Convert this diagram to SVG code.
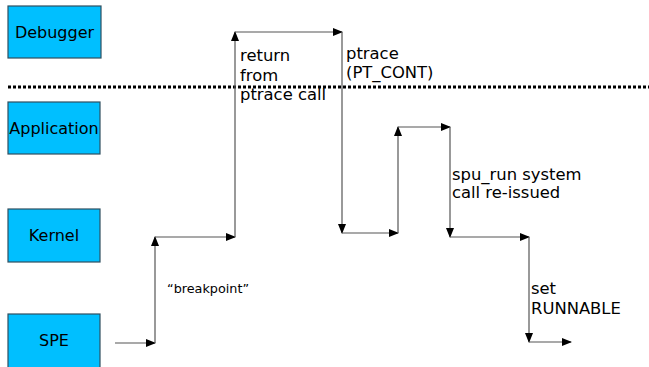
<svg xmlns="http://www.w3.org/2000/svg" width="649" height="367" viewBox="0 0 649 367">
<style>
.box{fill:#00bfff;stroke:#2f4f5f;stroke-width:1.2}
.lbl{font-family:"DejaVu Sans",sans-serif;font-size:16px;fill:#000}
.ann{font-size:16.4px}
.ctr{text-anchor:middle}
.c{fill:none;stroke:#555;stroke-width:1.2}
</style>
<defs>
<marker id="ah" markerWidth="10" markerHeight="8" refX="9" refY="4" orient="auto" markerUnits="userSpaceOnUse">
<path d="M0,0 L10,4 L0,8 Z" fill="#000"/>
</marker>
</defs>
<rect width="649" height="367" fill="#fff"/>
<g id="debugger"><rect class="box" x="8" y="6" width="93" height="52"/><text class="lbl ctr" x="54.5" y="38">Debugger</text></g>
<g id="application"><rect class="box" x="8" y="102" width="92" height="52"/><text class="lbl ctr" x="54" y="134">Application</text></g>
<g id="kernel"><rect class="box" x="8" y="209" width="92" height="53"/><text class="lbl ctr" x="54" y="241">Kernel</text></g>
<g id="spe"><rect class="box" x="8" y="314" width="92" height="56"/><text class="lbl ctr" x="54" y="346">SPE</text></g>
<line x1="8" y1="87" x2="649" y2="87" stroke="#000" stroke-width="3" stroke-dasharray="3,2"/>
<g id="connectors">
<line class="c" x1="115" y1="343" x2="155" y2="343" marker-end="url(#ah)"/>
<line class="c" x1="155" y1="343" x2="155" y2="237" marker-end="url(#ah)"/>
<line class="c" x1="155" y1="237" x2="235" y2="237" marker-end="url(#ah)"/>
<line class="c" x1="235" y1="237" x2="235" y2="32" marker-end="url(#ah)"/>
<line class="c" x1="235" y1="32" x2="342" y2="32" marker-end="url(#ah)"/>
<line class="c" x1="342" y1="32" x2="342" y2="233" marker-end="url(#ah)"/>
<line class="c" x1="342" y1="233" x2="398" y2="233" marker-end="url(#ah)"/>
<line class="c" x1="398" y1="233" x2="398" y2="127" marker-end="url(#ah)"/>
<line class="c" x1="398" y1="127" x2="450" y2="127" marker-end="url(#ah)"/>
<line class="c" x1="450" y1="127" x2="450" y2="237" marker-end="url(#ah)"/>
<line class="c" x1="450" y1="237" x2="529" y2="237" marker-end="url(#ah)"/>
<line class="c" x1="529" y1="237" x2="529" y2="342" marker-end="url(#ah)"/>
<line class="c" x1="529" y1="342" x2="571" y2="342" marker-end="url(#ah)"/>
</g>
<text class="lbl" x="167" y="293" style="font-size:12.8px">“breakpoint”</text>
<text class="lbl ann" x="240" y="61">return</text>
<text class="lbl ann" x="240" y="81">from</text>
<text class="lbl ann" x="240" y="100">ptrace call</text>
<text class="lbl ann" x="346" y="59">ptrace</text>
<text class="lbl ann" x="346" y="78">(PT_CONT)</text>
<text class="lbl ann" x="452" y="180">spu_run system</text>
<text class="lbl ann" x="452" y="198">call re-issued</text>
<text class="lbl ann" x="531" y="294">set</text>
<text class="lbl ann" x="531" y="314">RUNNABLE</text>
</svg>
